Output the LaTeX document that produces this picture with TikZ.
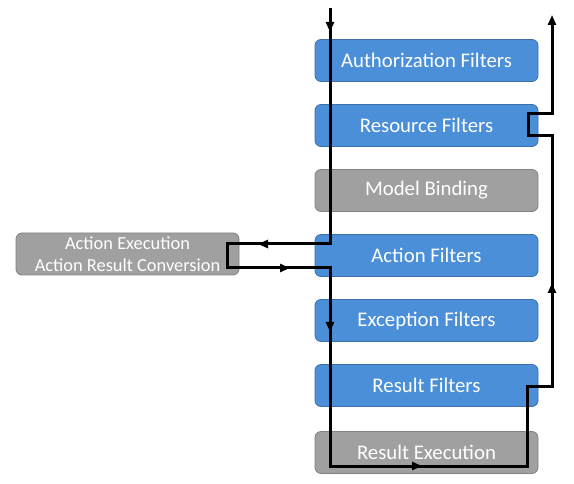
\documentclass[tikz,border=0pt]{standalone}
\usepackage{fontspec}
\setmainfont{Carlito}
\usepackage{xcolor}
\usepackage{tikz}
\usetikzlibrary{arrows.meta,decorations.markings}

\definecolor{filterblue}{RGB}{74,143,216}
\definecolor{filterline}{RGB}{62,112,170}
\definecolor{stepgray}{RGB}{160,160,160}
\definecolor{stepline}{RGB}{130,130,130}

\tikzset{
  stage/.style={draw=filterline, fill=filterblue, rounded corners=6pt, line width=0.8pt,
    minimum width=223pt, minimum height=42pt, text=white, font=\fontsize{20.8}{24}\selectfont},
  plain/.style={stage, draw=stepline, fill=stepgray},
  midarrow/.style={postaction={decorate, decoration={markings,
    mark=at position #1 with {\arrow{Triangle[length=10pt,width=8pt]}}}}}
}

\begin{document}
\begin{tikzpicture}[x=1pt, y=-1pt, >={Triangle[length=10pt,width=8pt]}, node distance=65pt]
    \useasboundingbox (0,0) rectangle (574,484);

    % Nodes
    \node (auth) [stage] at (426.5,60.5) {Authorization Filters};
    \node (res) [stage, below of=auth] {Resource Filters};
    \node (bind) [plain, below of=res] {Model Binding};
    \node (act) [stage, below of=bind] {Action Filters};
    \node (exc) [stage, below of=act] {Exception Filters};
    \node (resf) [stage, below of=exc] {Result Filters};
    \node (exec) [plain, below of=resf, yshift=-2pt] {Result Execution};
    \node (run) [plain, align=center, font=\fontsize{18.4}{22}\selectfont] at (127.5,254)
      {Action Execution\\Action Result Conversion};

    % Corners of the request path
    \coordinate (c0) at (330,8);
    \coordinate (c1) at (330,244);
    \coordinate (c2) at (227,244);
    \coordinate (c3) at (227,268);
    \coordinate (c4) at (330,268);
    \coordinate (c5) at (330,466);
    \coordinate (c6) at (527,466);
    \coordinate (c7) at (527,387);
    \coordinate (c8) at (552,387);
    \coordinate (c9) at (552,136);
    \coordinate (c10) at (528,136);
    \coordinate (c11) at (528,114);
    \coordinate (c12) at (552,114);
    \coordinate (c13) at (552,15);

    % Edges
    \draw[->, line width=3pt, midarrow=24pt, midarrow=308pt, midarrow=426pt,
          midarrow=530pt, midarrow=756pt, midarrow=1069pt]
      (c0) -- (c1) -- (c2) -- (c3) -- (c4) -- (c5) -- (c6) -- (c7) -- (c8)
      -- (c9) -- (c10) -- (c11) -- (c12) -- (c13);
\end{tikzpicture}
\end{document}
